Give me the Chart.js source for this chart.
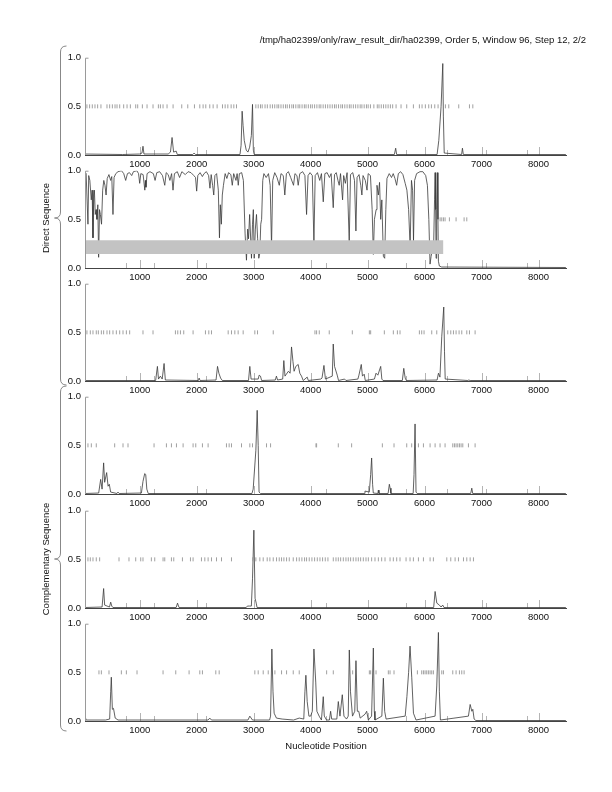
<!DOCTYPE html>
<html>
<head>
<meta charset="utf-8">
<script src="https://cdn.jsdelivr.net/npm/chart.js@4.4.1/dist/chart.umd.min.js"></script>
<style>
  body{margin:0;background:#fff;}
  #wrap{position:relative;width:612px;height:792px;overflow:hidden;}
  .panel{position:absolute;left:0;width:612px;height:122px;}
  #overlay{position:absolute;left:0;top:0;}
</style>
</head>
<body>
<div id="wrap">
  <div class="panel" id="p1"><canvas id="c1"></canvas></div>
  <div class="panel" id="p2"><canvas id="c2"></canvas></div>
  <div class="panel" id="p3"><canvas id="c3"></canvas></div>
  <div class="panel" id="p4"><canvas id="c4"></canvas></div>
  <div class="panel" id="p5"><canvas id="c5"></canvas></div>
  <div class="panel" id="p6"><canvas id="c6"></canvas></div>
  <canvas id="overlay" width="612" height="792"></canvas>
</div>
<script>
const FONT = "'Liberation Sans', Arial, Helvetica, sans-serif";
const xTicks = [1000,2000,3000,4000,5000,6000,7000,8000];
const xMinorMarks = [763,1252,2167,4269,5676,6390,7081,7796];
const yTicks = [0,0.5,1];
const titleText = '/tmp/ha02399/only/raw_result_dir/ha02399, Order 5, Window 96, Step 12, 2/2';

// frame 1 (direct)
const trace1 = [[40,0.01],[700,0.005],[1000,0.01],[1040,0.02],[1058,0.09],[1075,0.01],[1500,0.01],[1540,0.03],[1568,0.18],[1595,0.03],[1640,0.04],[1660,0.005],
  [1930,0.005],[1955,0.02],[1980,0.005],[2760,0.005],[2780,0.1],[2798,0.45],[2815,0.3],[2835,0.15],[2870,0.05],[2900,0.03],[2930,0.08],[2960,0.2],[2980,0.52],
  [2995,0.05],[3010,0.005],[5470,0.005],[5493,0.07],[5510,0.005],[6220,0.005],[6250,0.15],[6290,0.5],[6320,0.94],[6330,0.4],[6345,0.02],[6650,0.005],
  [6665,0.07],[6680,0.005],[8480,0.005]];
const stops1 = [74,121,168,215,262,320,426,473,520,567,602,649,719,778,836,930,965,1047,1129,1234,1328,1363,1410,1480,1586,1738,1844,1961,2055,2113,2160,
  2230,2289,2359,2453,2500,2547,2605,2652,2699,3039,3080,3120,3150,3200,3240,3290,3330,3370,3410,3440,3480,3520,3560,3590,3630,3670,3700,3740,3780,3810,
  3850,3890,3920,3960,4000,4030,4070,4110,4150,4180,4220,4260,4300,4340,4380,4420,4450,4490,4530,4560,4600,4640,4680,4710,4750,4790,4830,4870,4900,4940,
  4980,5010,5050,5110,5170,5200,5240,5280,5320,5360,5400,5440,5500,5587,5687,5804,5909,5956,6014,6073,6120,6179,6237,6366,6425,6600,6788,6847];

// frame 2 (direct)
const trace2 = [[40,0.99],[60,0.97],[92,0.45],[105,0.95],[125,0.9],[150,0.7],[165,0.8],[180,0.31],[195,0.75],[205,0.8],[220,0.55],[235,0.6],[250,0.5],
  [265,0.65],[279,0.11],[295,0.6],[310,0.55],[330,0.45],[350,0.8],[370,0.9],[390,0.85],[410,0.75],[430,0.92],[460,0.96],[490,0.9],[510,0.94],[531,0.55],
  [550,0.93],[580,0.97],[620,0.99],[680,1.0],[720,0.97],[754,0.9],[785,0.97],[820,0.98],[860,0.95],[890,0.99],[950,1.0],[980,0.97],[1000,0.87],[1020,0.97],
  [1060,0.96],[1090,0.8],[1100,0.9],[1110,0.83],[1130,0.97],[1180,0.99],[1240,0.97],[1270,0.9],[1300,0.98],[1350,0.99],[1400,0.95],[1440,0.85],[1465,0.98],
  [1500,0.96],[1530,0.9],[1560,0.97],[1585,0.8],[1610,0.97],[1660,0.99],[1700,0.93],[1740,0.99],[1800,0.96],[1850,0.99],[1900,0.98],[1950,0.95],[1980,0.93],
  [2000,0.79],[2020,0.95],[2060,0.98],[2100,0.94],[2130,0.97],[2170,0.99],[2210,0.95],[2233,0.82],[2255,0.96],[2280,0.85],[2300,0.75],[2320,0.95],[2350,0.97],
  [2380,0.8],[2400,0.31],[2415,0.65],[2433,0.45],[2450,0.75],[2470,0.85],[2500,0.97],[2530,0.92],[2560,0.98],[2600,0.96],[2625,0.85],[2650,0.97],[2690,0.9],
  [2710,0.97],[2730,0.85],[2750,0.97],[2790,0.98],[2820,0.9],[2850,0.35],[2874,0.08],[2895,0.4],[2910,0.3],[2930,0.55],[2962,0.1],[2980,0.45],[2995,0.6],
  [3010,0.1],[3030,0.4],[3050,0.55],[3070,0.3],[3090,0.1],[3108,0.15],[3125,0.45],[3140,0.5],[3160,0.9],[3180,0.97],[3220,0.93],[3260,0.97],[3290,0.85],
  [3314,0.22],[3335,0.9],[3370,0.98],[3410,0.93],[3450,0.85],[3480,0.97],[3520,0.95],[3547,0.75],[3575,0.97],[3610,0.99],[3650,0.93],[3700,0.85],[3725,0.97],
  [3760,0.95],[3782,0.85],[3810,0.97],[3860,0.99],[3900,0.95],[3929,0.55],[3955,0.95],[3990,0.98],[4030,0.95],[4058,0.26],[4080,0.95],[4120,0.98],[4160,0.9],
  [4190,0.97],[4222,0.68],[4250,0.97],[4290,0.98],[4330,0.93],[4360,0.97],[4397,0.62],[4420,0.96],[4450,0.98],[4480,0.9],[4502,0.85],[4525,0.97],[4561,0.7],
  [4580,0.95],[4610,0.87],[4640,0.98],[4678,0.26],[4700,0.96],[4740,0.98],[4770,0.9],[4795,0.38],[4815,0.93],[4850,0.96],[4880,0.85],[4900,0.75],[4920,0.95],
  [4960,0.9],[4990,0.8],[5010,0.97],[5050,0.95],[5080,0.6],[5101,0.14],[5120,0.5],[5150,0.6],[5165,0.85],[5189,0.75],[5210,0.88],[5230,0.5],[5250,0.7],
  [5277,0.12],[5300,0.1],[5320,0.6],[5340,0.92],[5380,0.97],[5420,0.93],[5450,0.97],[5480,0.92],[5510,0.85],[5540,0.97],[5580,0.99],[5620,0.96],[5660,0.87],
  [5690,0.8],[5720,0.6],[5747,0.21],[5770,0.9],[5790,0.8],[5806,0.28],[5825,0.9],[5860,0.97],[5920,0.99],[5970,0.99],[6020,0.95],[6050,0.85],[6075,0.5],
  [6096,0.04],[6115,0.12],[6140,0.2],[6160,0.25],[6175,0.7],[6185,0.98],[6195,0.6],[6202,0.1],[6212,0.6],[6225,0.98],[6235,0.5],[6243,0.07],[6260,0.02],
  [6300,0.01],[8480,0.005]];
const stops2 = [6273,6302,6331,6360,6436,6553,6694,6741];
const gene2 = [40,6331];
const geneBand = [0.145,0.285];

// frame 3 (direct)
const trace3 = [[40,0.005],[1280,0.005],[1311,0.15],[1330,0.02],[1363,0.05],[1395,0.02],[1428,0.18],[1450,0.01],[2030,0.005],[2043,0.03],[2060,0.005],
  [2340,0.01],[2366,0.15],[2390,0.08],[2420,0.03],[2450,0.005],[2910,0.005],[2933,0.15],[2955,0.02],[3080,0.02],[3097,0.06],[3120,0.05],[3140,0.005],
  [3380,0.01],[3400,0.05],[3420,0.01],[3510,0.02],[3530,0.21],[3550,0.05],[3610,0.1],[3640,0.08],[3665,0.35],[3690,0.2],[3710,0.1],[3740,0.15],[3782,0.17],
  [3810,0.08],[3840,0.05],[3870,0.005],[3940,0.04],[3960,0.005],[4180,0.02],[4200,0.03],[4234,0.16],[4260,0.02],[4380,0.05],[4397,0.38],[4420,0.15],
  [4467,0.06],[4490,0.005],[4596,0.02],[4620,0.005],[4830,0.02],[4848,0.06],[4889,0.17],[4910,0.05],[4940,0.07],[4960,0.005],[5120,0.02],[5148,0.08],
  [5180,0.06],[5230,0.15],[5250,0.02],[5270,0.005],[5610,0.005],[5635,0.13],[5660,0.03],[5680,0.005],[6220,0.01],[6244,0.08],[6270,0.04],[6302,0.46],
  [6337,0.76],[6350,0.3],[6362,0.02],[6760,0.005],[6776,0.01],[6800,0.005],[8480,0.005]];
const stops3 = [74,133,180,238,274,327,367,426,473,531,590,649,707,766,824,1058,1234,1627,1668,1715,1773,1937,2154,2213,2260,2553,2611,2670,2728,2816,
  3021,3068,3344,4076,4105,4152,4327,4732,5031,5054,5294,5452,5523,5569,5909,5950,5991,6126,6214,6407,6460,6507,6553,6606,6653,6741,6788,6887];

// frame 4 (complementary)
const trace4 = [[40,0.005],[280,0.01],[315,0.15],[340,0.05],[367,0.32],[385,0.12],[420,0.22],[445,0.08],[467,0.1],[490,0.02],[600,0.005],[619,0.02],
  [640,0.005],[1030,0.01],[1058,0.13],[1088,0.21],[1106,0.2],[1125,0.05],[1150,0.005],[2970,0.005],[2992,0.05],[3039,0.45],[3062,0.86],[3080,0.5],
  [3095,0.02],[3120,0.005],[4940,0.005],[4954,0.03],[5030,0.02],[5054,0.2],[5071,0.37],[5088,0.1],[5100,0.01],[5180,0.005],[5189,0.04],[5200,0.005],
  [5360,0.005],[5382,0.1],[5395,0.06],[5410,0.005],[5800,0.005],[5815,0.2],[5833,0.72],[5850,0.02],[5870,0.005],[6810,0.005],[6829,0.06],[6845,0.005],[8480,0.005]];
const stops4 = [92,151,238,561,707,795,1252,1469,1557,1645,1762,1937,1984,2101,2201,2523,2570,2611,2787,2933,2980,3226,3297,4094,4105,4486,4720,5259,
  5464,5687,5774,5892,5980,6097,6185,6272,6360,6495,6524,6553,6583,6612,6641,6671,6770,6887];

// frame 5 (complementary)
const trace5 = [[40,0.005],[340,0.01],[367,0.2],[385,0.03],[470,0.01],[491,0.06],[510,0.02],[530,0.005],[1640,0.005],[1664,0.05],[1690,0.005],
  [2870,0.005],[2890,0.02],[2930,0.02],[2960,0.02],[2980,0.3],[3004,0.8],[3025,0.1],[3045,0.05],[3060,0.005],[6160,0.005],[6185,0.17],[6215,0.05],
  [6260,0.03],[6290,0.01],[6319,0.03],[6340,0.005],[8480,0.005]];
const stops5 = [92,133,180,238,297,637,812,930,1018,1058,1205,1264,1410,1440,1557,1598,1750,1891,1937,2084,2143,2201,2260,2348,2436,2611,2980,3039,
  3109,3168,3238,3285,3344,3402,3449,3490,3531,3578,3625,3695,3754,3800,3847,3894,3929,3976,4023,4070,4117,4164,4210,4257,4304,4398,4445,4486,4527,
  4574,4620,4661,4702,4749,4796,4837,4878,4925,4972,5013,5071,5130,5189,5247,5306,5394,5452,5511,5569,5675,5745,5804,5892,5980,6097,6155,6390,6460,
  6536,6595,6683,6741,6800,6858];

// frame 6 (complementary)
const trace6 = [[40,0.05],[60,0.01],[400,0.01],[473,0.02],[491,0.3],[502,0.45],[520,0.12],[540,0.13],[570,0.03],[620,0.01],[2200,0.01],[2230,0.03],
  [2260,0.01],[2900,0.01],[2933,0.05],[2980,0.01],[3280,0.01],[3297,0.05],[3320,0.74],[3340,0.3],[3360,0.08],[3400,0.03],[3500,0.02],[3700,0.01],
  [3800,0.03],[3880,0.02],[3900,0.3],[3917,0.47],[3940,0.2],[3970,0.05],[4000,0.05],[4030,0.1],[4058,0.74],[4090,0.4],[4110,0.1],[4150,0.05],[4190,0.01],
  [4222,0.25],[4240,0.05],[4280,0.01],[4330,0.01],[4351,0.1],[4370,0.02],[4460,0.02],[4486,0.2],[4515,0.05],[4556,0.27],[4585,0.05],[4630,0.02],
  [4660,0.05],[4679,0.73],[4700,0.3],[4735,0.05],[4775,0.1],[4796,0.62],[4820,0.1],[4845,0.1],[4870,0.03],[4955,0.07],[4984,0.1],[5013,0.01],[5070,0.05],
  [5101,0.75],[5118,0.1],[5130,0.01],[5250,0.05],[5277,0.44],[5300,0.1],[5325,0.02],[5660,0.05],[5690,0.25],[5720,0.5],[5745,0.77],[5775,0.45],
  [5805,0.08],[5850,0.01],[6185,0.05],[6214,0.36],[6243,0.91],[6260,0.3],[6278,0.01],[6770,0.05],[6800,0.17],[6830,0.1],[6847,0.12],[6870,0.02],
  [6900,0.005],[8480,0.005]];
const stops6 = [285,327,461,678,766,953,1410,1633,1867,2055,2101,2336,2395,3021,3080,3168,3256,3373,3490,3578,3695,3800,4281,4398,4738,5031,5054,5148,
  5364,5394,5464,5874,5950,5980,6009,6038,6067,6097,6126,6155,6302,6331,6495,6553,6612,6653,6694];

const panelTops = [56,169,282,395,509,622];
const PLOT_H = 99, PAD_TOP = 8, XAXIS_H = 15;

const decor = {
  id:'decor',
  beforeDatasetsDraw(chart){
    const {ctx, chartArea:a, scales:{x}} = chart;
    ctx.save();
    ctx.lineWidth = 1;
    ctx.strokeStyle = '#b4b4b4';
    xTicks.forEach(v=>{ const px=Math.round(x.getPixelForValue(v))+0.5; ctx.beginPath(); ctx.moveTo(px,a.bottom); ctx.lineTo(px,a.bottom-8); ctx.stroke(); });
    xMinorMarks.forEach(v=>{ const px=Math.round(x.getPixelForValue(v))+0.5; ctx.beginPath(); ctx.moveTo(px,a.bottom); ctx.lineTo(px,a.bottom-5); ctx.stroke(); });
    ctx.restore();
  },
  afterDraw(chart){
    const {ctx, chartArea:a, scales:{y}} = chart;
    ctx.save();
    ctx.lineWidth = 1;
    ctx.strokeStyle = '#9a9a9a';
    const lx = Math.round(a.left)+0.5;
    ctx.beginPath(); ctx.moveTo(lx+3, a.top+0.5); ctx.lineTo(lx, a.top+0.5); ctx.lineTo(lx, a.bottom); ctx.stroke();
    ctx.strokeStyle = '#444';
    const by = Math.round(y.getPixelForValue(0))+0.5;
    ctx.beginPath(); ctx.moveTo(a.left, by); ctx.lineTo(a.right, by); ctx.stroke();
    ctx.restore();
  }
};

function pts(list){ return list.map(p=>({x:p[0], y:p[1]})); }
function marks(list){ return list.map(v=>({x:v, y:0.5})); }

function makePanel(n, trace, stops, gene){
  document.getElementById('p'+n).style.top = (panelTops[n-1]-PAD_TOP)+'px';
  const datasets = [];
  if(gene){
    datasets.push({type:'line', data:[{x:gene[0],y:geneBand[0]},{x:gene[1],y:geneBand[0]}], borderWidth:0, pointRadius:0, fill:false});
    datasets.push({type:'line', data:[{x:gene[0],y:geneBand[1]},{x:gene[1],y:geneBand[1]}], borderWidth:0, pointRadius:0, fill:'-1', backgroundColor:'#c3c3c3'});
  }
  datasets.push({type:'scatter', data:marks(stops), pointStyle:'line', rotation:90, pointRadius:2, borderColor:'#a0a0a0', borderWidth:1, showLine:false});
  datasets.push({type:'line', data:pts(trace), borderColor:'#3a3a3a', borderWidth:0.8, pointRadius:0, tension:0, fill:false});
  new Chart(document.getElementById('c'+n), {
    type:'line',
    data:{datasets},
    options:{
      responsive:true, maintainAspectRatio:false, animation:false,
      layout:{padding:{left:55, right:45, top:PAD_TOP, bottom:0}},
      plugins:{legend:{display:false}, tooltip:{enabled:false}},
      scales:{
        x:{type:'linear', min:40, max:8500,
          afterBuildTicks(s){ s.ticks = xTicks.map(v=>({value:v})); },
          afterFit(s){ s.height = XAXIS_H; },
          grid:{display:false, drawTicks:false}, border:{display:false},
          ticks:{padding:4, color:'#111', font:{family:FONT, size:9.5}, maxRotation:0, autoSkip:false, callback:v=>String(v)}},
        y:{type:'linear', min:0, max:1,
          afterBuildTicks(s){ s.ticks = yTicks.map(v=>({value:v})); },
          afterFit(s){ s.width = 30; },
          grid:{display:false, drawTicks:false}, border:{display:false},
          ticks:{padding:4, color:'#111', font:{family:FONT, size:9.5}, callback:v=>Number(v).toFixed(1)}}
      }
    },
    plugins:[decor]
  });
}

makePanel(1, trace1, stops1);
makePanel(2, trace2, stops2, gene2);
makePanel(3, trace3, stops3);
makePanel(4, trace4, stops4);
makePanel(5, trace5, stops5);
makePanel(6, trace6, stops6);

// braces and page texts
const oc = document.getElementById('overlay').getContext('2d');
function brace(top, tip, bottom){
  const x = 60.5, r = 6;
  oc.beginPath();
  oc.moveTo(x+6, top);
  oc.quadraticCurveTo(x, top, x, top+r);
  oc.lineTo(x, tip-r);
  oc.quadraticCurveTo(x, tip, x-6, tip);
  oc.quadraticCurveTo(x, tip, x, tip+r);
  oc.lineTo(x, bottom-r);
  oc.quadraticCurveTo(x, bottom, x+6, bottom);
  oc.stroke();
}
oc.strokeStyle = '#888';
oc.lineWidth = 1;
brace(46, 218, 385);
brace(386, 559, 731);

oc.fillStyle = '#111';
oc.font = '9.5px ' + FONT;
oc.textAlign = 'right';
oc.textBaseline = 'middle';
oc.fillText(titleText, 586, 40);
oc.textAlign = 'center';
oc.fillText('Nucleotide Position', 326, 746);
oc.save(); oc.translate(46, 218); oc.rotate(-Math.PI/2); oc.fillText('Direct Sequence', 0, 0); oc.restore();
oc.save(); oc.translate(46, 559); oc.rotate(-Math.PI/2); oc.fillText('Complementary Sequence', 0, 0); oc.restore();
</script>
</body>
</html>
